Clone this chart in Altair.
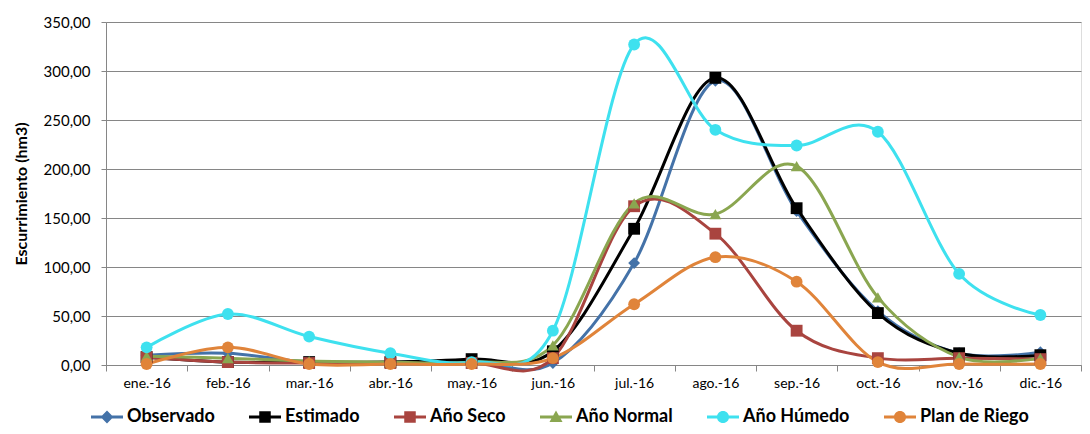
import altair as alt
import pandas as pd

months = ["ene.-16", "feb.-16", "mar.-16", "abr.-16", "may.-16", "jun.-16",
          "jul.-16", "ago.-16", "sep.-16", "oct.-16", "nov.-16", "dic.-16"]
series_names = ["Observado", "Estimado", "Año Seco", "Año Normal", "Año Húmedo", "Plan de Riego"]

observado = [10, 12, 3, 3, 4, 2, 104, 290, 157, 55, 12, 13]
estimado = [8, 3, 3, 3, 6, 14, 139, 293, 160, 53, 12, 10]
anio_seco = [8, 3, 2, 2, 2, 7, 162, 134, 35, 7, 7, 6]
anio_normal = [9, 7, 4, 3, 3, 20, 165, 154, 203, 69, 8, 7]
anio_humedo = [18, 52, 29, 12, 3, 35, 327, 240, 224, 238, 93, 51]
plan_riego = [1, 18, 1, 1, 1, 7, 62, 110, 85, 3, 1, 1]

colors = ["#4472A8", "#000000", "#A9443F", "#8AA650", "#3EE1EF", "#E0843A"]
shapes = ["diamond", "square", "square", "triangle-up", "circle", "circle"]

# legend symbols: a short line with the series marker on it (unit = 8px)
LINE = "M-3,-0.19L1,-0.19L1,0.19L-3,0.19Z"
legend_shapes = [
    LINE + "M-1,-0.8L-0.2,0L-1,0.8L-1.8,0Z",
    LINE + "M-1.72,-0.72L-0.28,-0.72L-0.28,0.72L-1.72,0.72Z",
    LINE + "M-1.72,-0.72L-0.28,-0.72L-0.28,0.72L-1.72,0.72Z",
    LINE + "M-1,-0.82L-0.18,0.62L-1.82,0.62Z",
    LINE + "M-1.76,0a0.76,0.76 0 1,1 1.52,0a0.76,0.76 0 1,1 -1.52,0Z",
    LINE + "M-1.76,0a0.76,0.76 0 1,1 1.52,0a0.76,0.76 0 1,1 -1.52,0Z",
]

all_values = [observado, estimado, anio_seco, anio_normal, anio_humedo, plan_riego]
rows = []
for si, (name, vals) in enumerate(zip(series_names, all_values)):
    for m, v in zip(months, vals):
        rows.append({"Mes": m, "Serie": name, "Valor": v, "orden": si})
df = pd.DataFrame(rows)

x_enc = alt.X("Mes:N", sort=months,
              scale=alt.Scale(type="band", paddingInner=0, paddingOuter=0),
              axis=alt.Axis(title=None, labelAngle=0, tickBand="extent",
                            labelFont="Lato", labelFontSize=14, labelColor="#000000",
                            labelPadding=5, domainColor="#868686", tickColor="#868686",
                            tickSize=6, grid=False))
y_enc = alt.Y("Valor:Q",
              scale=alt.Scale(domain=[0, 350], nice=False),
              axis=alt.Axis(title="Escurrimiento (hm3)", values=[0, 50, 100, 150, 200, 250, 300, 350],
                            labelExpr="replace(format(datum.value, '.2f'), '.', ',')",
                            labelFont="Lato", labelFontSize=15, labelColor="#000000",
                            titleFont="Lato", titleFontSize=16, titleFontWeight="bold",
                            titleColor="#000000", titlePadding=14,
                            gridColor="#868686", gridWidth=1,
                            domainColor="#868686", tickColor="#868686", tickSize=5,
                            labelPadding=11))


def color_enc(legend):
    return alt.Color("Serie:N", sort=series_names,
                     scale=alt.Scale(domain=series_names, range=colors),
                     legend=legend)


legend_def = alt.Legend(title=None, orient="bottom", direction="horizontal",
                        labelFont="Lato", labelFontSize=18, labelFontWeight="bold",
                        labelColor="#000000", columnPadding=34, labelOffset=3,
                        symbolSize=256, symbolStrokeWidth=0, symbolOpacity=1,
                        offset=18)

lines = alt.Chart(df).mark_line(interpolate="cardinal", strokeWidth=3).encode(
    x=x_enc, y=y_enc, color=color_enc(None), order="orden:Q"
)
points = alt.Chart(df).mark_point(filled=True, size=140, opacity=1).encode(
    x=x_enc, y=y_enc, color=color_enc(None),
    shape=alt.Shape("Serie:N", sort=series_names,
                    scale=alt.Scale(domain=series_names, range=shapes), legend=None)
)
legend_layer = alt.Chart(df).mark_point(filled=True, opacity=0, size=256).encode(
    x=x_enc, y=y_enc, color=color_enc(legend_def),
    shape=alt.Shape("Serie:N", sort=series_names,
                    scale=alt.Scale(domain=series_names, range=legend_shapes),
                    legend=legend_def)
)

chart = alt.layer(lines, points, legend_layer).resolve_scale(
    color="independent", shape="independent"
).properties(
    width=1074, height=418,
    padding={"left": 5, "right": 0, "top": 7, "bottom": 0},
    autosize=alt.AutoSizeParams(type="fit", contains="padding"),
).configure_view(stroke=None).configure(background="#ffffff")

chart.save("out.html", embed_options={"renderer": "svg", "actions": False})
